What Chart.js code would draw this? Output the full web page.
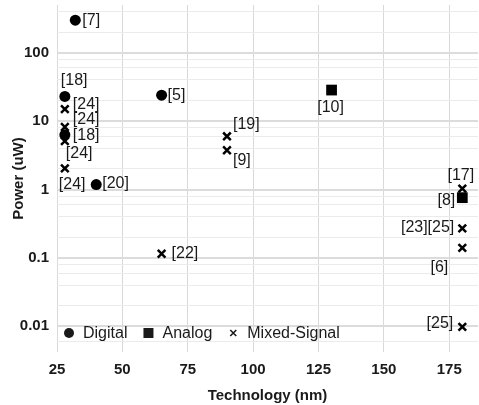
<!DOCTYPE html>
<html>
<head>
<meta charset="utf-8">
<script src="https://cdn.jsdelivr.net/npm/chart.js@4.4.1/dist/chart.umd.min.js"></script>
<style>
  html, body { margin: 0; padding: 0; background: #fff; }
  #wrap { width: 479px; height: 405px; }
</style>
</head>
<body>
<div id="wrap"><canvas id="c" width="479" height="405"></canvas></div>
<script>
// ---- data ----
const seriesNames = ['Digital', 'Analog', 'Mixed-Signal'];

const digitalX = [32, 28, 28, 40, 65];
const digitalY = [300, 23, 6.3, 1.18, 24];
const digitalLabels = ['[7]', '[18]', '[18]', '[20]', '[5]'];

const analogX = [130, 180];
const analogY = [28.5, 0.76];
const analogLabels = ['[10]', '[8]'];

const mixedX = [28, 28, 28, 28, 90, 90, 65, 180, 180, 180, 180];
const mixedY = [15, 8.2, 5.1, 2.04, 6.0, 3.75, 0.115, 1.03, 0.27, 0.14, 0.0098];
const mixedLabels = ['[24]', '[24]', '[24]', '[24]', '[19]', '[9]', '[22]', '[17]', '[23][25]', '[6]', '[25]'];

const xTickValues = [25, 50, 75, 100, 125, 150, 175];
const yMajorTicks = [0.01, 0.1, 1, 10, 100];
const yTickLabels = ['0.01', '0.1', '1', '10', '100'];
const yMinorTicks = [0.006, 0.02, 0.04, 0.06, 0.08, 0.2, 0.4, 0.6, 0.8, 2, 4, 6, 8, 20, 40, 60, 80, 200, 400];

// ---- label placement (style, not data): [dx, dy, align] ----
const digitalLabelPlace = [[7, 0, 'left'], [-4, -16, 'left'], [8, 1, 'left'], [6, -1, 'left'], [6, 0, 'left']];
const analogLabelPlace = [[-1, 18, 'center'], [-7, 3, 'right']];
const mixedLabelPlace = [[8, -5, 'left'], [8, -7, 'left'], [1, 12, 'left'], [-6, 16, 'left'],
  [6, -12, 'left'], [6, 10, 'left'], [10, 0, 'left'], [-1.5, -13, 'center'],
  [-8, -1, 'right'], [-14, 20, 'right'], [-9, -3, 'right']];

const FONT = "'Liberation Sans', Arial, Helvetica, sans-serif";
const zip = (xs, ys) => xs.map((x, i) => ({ x: x, y: ys[i] }));
const allYTicks = yMajorTicks.concat(yMinorTicks).sort((a, b) => a - b);
const isMajor = v => yMajorTicks.some(m => Math.abs(m - v) / m < 1e-6);

const labelSets = [
  { labels: digitalLabels, place: digitalLabelPlace },
  { labels: analogLabels, place: analogLabelPlace },
  { labels: mixedLabels, place: mixedLabelPlace }
];

const pointLabelPlugin = {
  id: 'pointLabels',
  afterDatasetsDraw(chart) {
    const ctx = chart.ctx;
    ctx.save();
    ctx.font = '16px ' + FONT;
    ctx.fillStyle = '#1a1a1a';
    ctx.textBaseline = 'middle';
    labelSets.forEach((set, di) => {
      const meta = chart.getDatasetMeta(di);
      meta.data.forEach((pt, j) => {
        const p = set.place[j];
        ctx.textAlign = p[2];
        ctx.fillText(set.labels[j], pt.x + p[0], pt.y + p[1]);
      });
    });
    ctx.restore();
  }
};

function drawMarker(ctx, style, x, y) {
  ctx.beginPath();
  if (style === 'circle') {
    ctx.arc(x, y, 5, 0, Math.PI * 2);
    ctx.fill();
  } else if (style === 'rect') {
    ctx.fillRect(x - 5, y - 5, 10, 10);
  } else {
    const r = 3;
    ctx.lineWidth = 1.6;
    ctx.moveTo(x - r, y - r); ctx.lineTo(x + r, y + r);
    ctx.moveTo(x + r, y - r); ctx.lineTo(x - r, y + r);
    ctx.stroke();
  }
}

const insideLegendPlugin = {
  id: 'insideLegend',
  afterDatasetsDraw(chart) {
    const ctx = chart.ctx;
    const area = chart.chartArea;
    const styles = ['circle', 'rect', 'crossRot'];
    ctx.save();
    ctx.font = '16px ' + FONT;
    ctx.fillStyle = '#1a1a1a';
    ctx.strokeStyle = '#1a1a1a';
    ctx.textBaseline = 'middle';
    ctx.textAlign = 'left';
    const y = area.bottom - 19;
    let x = area.left + 12;
    seriesNames.forEach((name, i) => {
      drawMarker(ctx, styles[i], x, y);
      const tx = x + 14;
      ctx.fillText(name, tx, y + 1);
      x = tx + ctx.measureText(name).width + 21;
    });
    ctx.restore();
  }
};

new Chart(document.getElementById('c'), {
  type: 'scatter',
  data: {
    datasets: [
      { label: seriesNames[0], data: zip(digitalX, digitalY), pointStyle: 'circle',
        pointRadius: 5.5, pointHoverRadius: 5.5, backgroundColor: '#000', borderColor: '#000', borderWidth: 0 },
      { label: seriesNames[1], data: zip(analogX, analogY), pointStyle: 'rect',
        pointRadius: 7.6, pointHoverRadius: 7.6, backgroundColor: '#000', borderColor: '#000', borderWidth: 0 },
      { label: seriesNames[2], data: zip(mixedX, mixedY), pointStyle: 'crossRot',
        pointRadius: 5.4, pointHoverRadius: 5.4, backgroundColor: '#000', borderColor: '#000', borderWidth: 2.5 }
    ]
  },
  options: {
    responsive: false,
    devicePixelRatio: 1,
    animation: false,
    events: [],
    layout: { autoPadding: false, padding: { top: 5, right: 1, left: 0, bottom: 0 } },
    plugins: { legend: { display: false }, tooltip: { enabled: false } },
    scales: {
      x: {
        type: 'linear',
        min: 25, max: 186,
        bounds: 'data',
        afterBuildTicks: s => { s.ticks = xTickValues.map(v => ({ value: v })); },
        afterFit: s => { s.height = 53; s.paddingLeft = 0; s.paddingRight = 0; },
        grid: { color: '#d9d9d9', lineWidth: 1, drawTicks: false },
        border: { display: false },
        ticks: { padding: 9, color: '#1a1a1a', font: { family: FONT, size: 15, weight: 'bold' }, maxRotation: 0, autoSkip: false },
        title: { display: true, text: 'Technology (nm)', color: '#1a1a1a',
          font: { family: FONT, size: 15, weight: 'bold' }, padding: { top: 0, bottom: 0 } }
      },
      y: {
        type: 'logarithmic',
        min: 0.0042, max: 500,
        bounds: 'data',
        afterBuildTicks: s => { s.ticks = allYTicks.map(v => ({ value: v, major: isMajor(v) })); },
        afterFit: s => { s.width = 57; s.paddingTop = 0; s.paddingBottom = 0; },
        grid: {
          drawTicks: false,
          color: c => (c.tick && isMajor(c.tick.value)) ? '#dcdcdc' : '#ebebeb',
          lineWidth: c => (c.tick && isMajor(c.tick.value)) ? 2 : 1
        },
        border: { display: false },
        ticks: {
          padding: 8, color: '#1a1a1a', autoSkip: false,
          font: { family: FONT, size: 15, weight: 'bold' },
          callback: v => {
            const i = yMajorTicks.findIndex(m => Math.abs(m - v) / m < 1e-6);
            return i >= 0 ? yTickLabels[i] : '';
          }
        },
        title: { display: true, text: 'Power (uW)', color: '#1a1a1a',
          font: { family: FONT, size: 15, weight: 'bold' }, padding: { top: 10, bottom: 0 } }
      }
    }
  },
  plugins: [pointLabelPlugin, insideLegendPlugin]
});
</script>
</body>
</html>
